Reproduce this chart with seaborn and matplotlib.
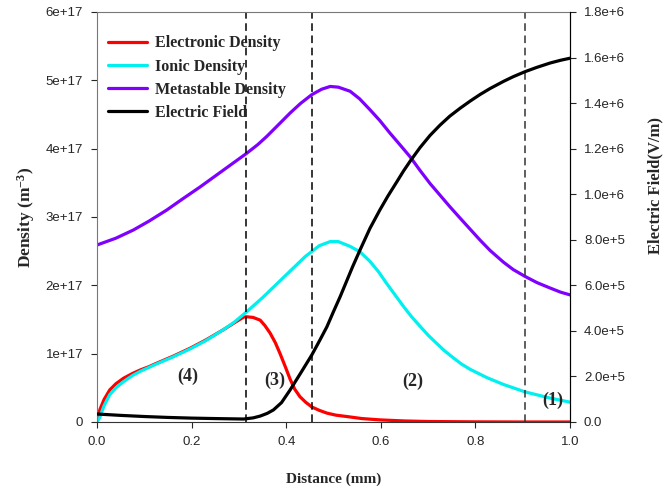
import numpy as np
import seaborn as sns
import matplotlib
matplotlib.use("Agg")
from matplotlib import pyplot as plt
from matplotlib.lines import Line2D
from matplotlib.ticker import FuncFormatter

# values (densities in 1e17 m^-3, field in 1e5 V/m)
ne_x = [0, 0.006, 0.015, 0.027, 0.04, 0.056, 0.075, 0.091, 0.11, 0.126, 0.16, 0.197, 0.23,
        0.267, 0.29, 0.31, 0.316, 0.33, 0.345, 0.355, 0.366, 0.377, 0.387, 0.398, 0.408,
        0.418, 0.429, 0.441, 0.454, 0.47, 0.486, 0.505, 0.528, 0.56, 0.6, 0.65, 0.7, 0.8,
        0.9, 1.0]
ne = [0, 0.18, 0.33, 0.47, 0.56, 0.64, 0.71, 0.76, 0.81, 0.86, 0.96, 1.08, 1.20,
      1.35, 1.45, 1.535, 1.54, 1.53, 1.49, 1.41, 1.30, 1.16, 1.00, 0.81, 0.63,
      0.48, 0.37, 0.29, 0.22, 0.17, 0.13, 0.10, 0.08, 0.05, 0.03, 0.015, 0.007, 0.002,
      0, 0]

ni_x = [0, 0.006, 0.015, 0.027, 0.04, 0.056, 0.075, 0.091, 0.126, 0.16, 0.197, 0.23, 0.267,
        0.29, 0.316, 0.35, 0.38, 0.41, 0.44, 0.47, 0.493, 0.51, 0.535, 0.556, 0.577, 0.595,
        0.612, 0.63, 0.648, 0.665, 0.683, 0.7, 0.718, 0.735, 0.753, 0.77, 0.789, 0.824,
        0.859, 0.905, 0.958, 1.0]
ni = [0, 0.07, 0.24, 0.40, 0.50, 0.59, 0.68, 0.74, 0.85, 0.95, 1.07, 1.19, 1.35,
      1.46, 1.61, 1.82, 2.02, 2.22, 2.42, 2.58, 2.64, 2.64, 2.57, 2.49, 2.35, 2.20,
      2.03, 1.86, 1.69, 1.54, 1.40, 1.27, 1.15, 1.04, 0.94, 0.85, 0.77, 0.65,
      0.55, 0.44, 0.35, 0.29]

nm_x = [0, 0.04, 0.077, 0.11, 0.147, 0.18, 0.218, 0.25, 0.288, 0.316, 0.34, 0.359, 0.385,
        0.408, 0.43, 0.454, 0.475, 0.493, 0.51, 0.535, 0.555, 0.577, 0.598, 0.619, 0.64,
        0.662, 0.683, 0.704, 0.725, 0.746, 0.768, 0.789, 0.81, 0.831, 0.859, 0.88, 0.905,
        0.93, 0.958, 0.98, 1.0]
nm = [2.59, 2.69, 2.81, 2.94, 3.10, 3.26, 3.44, 3.60, 3.79, 3.93, 4.06, 4.18, 4.36,
      4.52, 4.66, 4.79, 4.87, 4.91, 4.90, 4.84, 4.73, 4.57, 4.41, 4.23, 4.06,
      3.88, 3.68, 3.49, 3.32, 3.15, 2.98, 2.82, 2.66, 2.51, 2.34, 2.23, 2.13,
      2.04, 1.96, 1.90, 1.86]

ef_x = [0, 0.05, 0.1, 0.15, 0.2, 0.25, 0.31, 0.33, 0.345, 0.36, 0.373, 0.39, 0.408, 0.43,
        0.454, 0.47, 0.486, 0.5, 0.514, 0.524, 0.54, 0.556, 0.577, 0.598, 0.615, 0.634,
        0.648, 0.662, 0.683, 0.704, 0.725, 0.746, 0.768, 0.789, 0.81, 0.831, 0.86, 0.88,
        0.905, 0.93, 0.958, 0.98, 1.0]
ef = [0.35, 0.29, 0.24, 0.20, 0.17, 0.15, 0.13, 0.18, 0.26, 0.38, 0.53, 0.85, 1.40, 2.13,
      2.94, 3.55, 4.18, 4.85, 5.5, 6.0, 6.8, 7.55, 8.5, 9.31, 9.92, 10.55,
      11.02, 11.45, 12.05, 12.58, 13.03, 13.43, 13.78, 14.09, 14.38, 14.64, 14.96, 15.16,
      15.38, 15.57, 15.76, 15.88, 15.97]

zone_edges = [0.316, 0.454, 0.905]
zone_labels = ["(4)", "(3)", "(2)", "(1)"]
zone_x = [0.192, 0.376, 0.668, 0.964]
zone_y = [0.67e17, 0.61e17, 0.59e17, 0.31e17]

names = ["Electronic Density", "Ionic Density", "Metastable Density", "Electric Field"]
colors = ["#ff0000", "#00f0f0", "#7f00ff", "#000000"]

sns.set_style("ticks")
plt.rcParams["font.family"] = ["Liberation Sans", "DejaVu Sans"]
plt.rcParams["mathtext.fontset"] = "custom"
plt.rcParams["mathtext.rm"] = "Liberation Serif:bold"
plt.rcParams["mathtext.it"] = "Liberation Serif:bold"
plt.rcParams["mathtext.bf"] = "Liberation Serif:bold"
serif = {"family": "Liberation Serif", "weight": "bold"}

fig = plt.figure(figsize=(6.7, 4.95), dpi=100)
ax = fig.add_axes([0.1448, 0.1475, 0.706, 0.8283])
ax2 = ax.twinx()

lw = 2.3
sns.lineplot(x=ne_x, y=np.array(ne) * 1e17, ax=ax, color=colors[0], lw=lw)
sns.lineplot(x=ni_x, y=np.array(ni) * 1e17, ax=ax, color=colors[1], lw=lw)
sns.lineplot(x=nm_x, y=np.array(nm) * 1e17, ax=ax, color=colors[2], lw=lw)
sns.lineplot(x=ef_x, y=np.array(ef) * 1e5, ax=ax2, color=colors[3], lw=lw)

for i, xe in enumerate(zone_edges):
    ax.axvline(xe, color="#000000" if i < 2 else "#333333", lw=1.1, ls=(0, (5, 3)))

for lab, xp, yp in zip(zone_labels, zone_x, zone_y):
    ax.text(xp, yp, lab, ha="center", va="center", fontsize=13, **serif)

ax.set_xlim(0, 1.0)
ax.set_ylim(0, 6e17)
ax2.set_ylim(0, 1.8e6)
ax.set_xticks([0, 0.2, 0.4, 0.6, 0.8, 1.0])
ax.set_yticks(np.arange(0, 7) * 1e17)
ax2.set_yticks(np.arange(0, 10) * 2e5)
ax.xaxis.set_major_formatter(FuncFormatter(lambda v, p: f"{v:.1f}"))
ax.yaxis.set_major_formatter(FuncFormatter(
    lambda v, p: "0" if v == 0 else f"{v:.0e}"))
ax2.yaxis.set_major_formatter(FuncFormatter(
    lambda v, p: "0.0" if v == 0 else f"{v:.1e}".replace("e+0", "e+")))

for a in (ax, ax2):
    a.tick_params(labelsize=9.5, length=4, width=0.8, direction="out", pad=6)
ax.spines["left"].set_color("#777777")
ax.spines["top"].set_color("#777777")
ax.spines["bottom"].set_color("#333333")
ax2.spines["right"].set_color("#000000")
ax2.spines["top"].set_visible(False)
ax2.spines["left"].set_visible(False)
ax2.spines["bottom"].set_visible(False)

ax.set_xlabel("Distance (mm)", fontsize=11, labelpad=18, **serif)
ax.set_ylabel("Density (m$^{-3}$)", fontsize=12.5, labelpad=6, **serif)
ax2.set_ylabel("Electric Field(V/m)", fontsize=12, **serif)
ax2.yaxis.set_label_coords(1.163, 0.578)

handles = [Line2D([], [], color=c, lw=lw) for c in colors]
ax.legend(handles, names, loc="upper left", bbox_to_anchor=(0.0, 0.97), frameon=False,
          prop={"family": "Liberation Serif", "weight": "bold", "size": 11.5},
          handlelength=2.4, handletextpad=0.5, labelspacing=0.45, borderaxespad=0.3)

fig.savefig("out.png", dpi=100)
